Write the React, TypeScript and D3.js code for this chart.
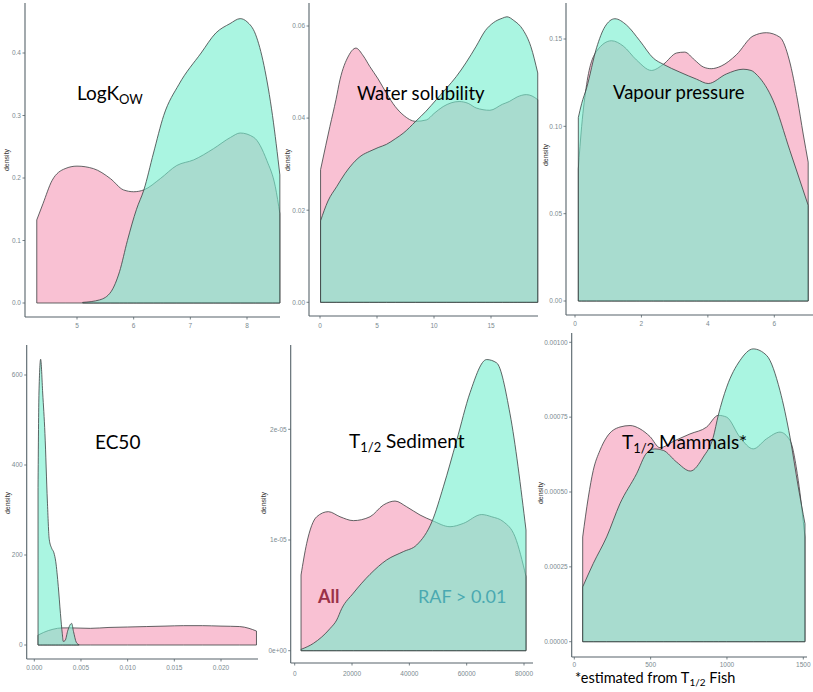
import React from 'react';
import * as d3 from 'd3';

type Pt = [number, number];

// ---------- data ----------
const logKowAll: Pt[] = [[4.29,0.133],[4.4,0.159],[4.56,0.196],[4.79,0.215],[5.0,0.219],[5.29,0.215],[5.59,0.199],[5.82,0.181],[6.0,0.178],[6.18,0.181],[6.47,0.199],[6.76,0.22],[7.06,0.229],[7.41,0.247],[7.71,0.265],[7.88,0.272],[8.12,0.265],[8.35,0.228],[8.5,0.186],[8.58,0.143]];
const logKowRaf: Pt[] = [[5.1,0.001],[5.4,0.005],[5.6,0.018],[5.75,0.05],[5.89,0.1],[6.05,0.15],[6.18,0.181],[6.35,0.24],[6.53,0.3],[6.8,0.35],[7.19,0.4],[7.45,0.432],[7.7,0.447],[7.88,0.455],[8.0,0.45],[8.15,0.43],[8.3,0.38],[8.45,0.3],[8.58,0.205]];

const waterAll: Pt[] = [[0.05,0.0288],[0.5,0.034],[0.87,0.0382],[1.4,0.044],[1.75,0.0483],[2.5,0.0535],[3.15,0.0552],[3.8,0.0535],[4.37,0.0512],[5.1,0.0485],[5.83,0.0454],[6.6,0.0425],[7.29,0.0407],[8.4,0.0393],[9.33,0.0396],[10.0,0.041],[10.8,0.0425],[12.2,0.0436],[13.0,0.0432],[13.7,0.0422],[14.9,0.0417],[16.0,0.043],[16.6,0.0436],[17.3,0.0446],[18.1,0.0451],[18.6,0.0448],[19.1,0.044]];
const waterRaf: Pt[] = [[0.05,0.0177],[0.7,0.022],[1.46,0.0251],[2.2,0.028],[2.9,0.0302],[3.6,0.0318],[4.37,0.0328],[5.1,0.0336],[5.83,0.0343],[6.6,0.0355],[7.29,0.0367],[8.4,0.0393],[9.3,0.0415],[10.2,0.044],[11.1,0.0465],[11.95,0.049],[12.8,0.052],[13.7,0.0556],[14.5,0.059],[15.2,0.0607],[16.0,0.0617],[16.4,0.062],[17.0,0.0612],[17.8,0.0592],[18.5,0.0555],[19.1,0.0498]];

const vapourAll: Pt[] = [[0.1,0.0757],[0.2,0.1],[0.35,0.124],[0.65,0.143],[1.1,0.149],[1.45,0.146],[1.85,0.138],[2.3,0.132],[2.66,0.1355],[3.06,0.142],[3.3,0.1425],[3.6,0.138],[3.86,0.134],[4.1,0.133],[4.4,0.1345],[4.86,0.141],[5.36,0.1517],[5.76,0.1536],[6.17,0.151],[6.45,0.138],[6.7,0.115],[6.87,0.0956],[7.02,0.0795]];
const vapourRaf: Pt[] = [[0.1,0.105],[0.2,0.113],[0.35,0.122],[0.65,0.145],[0.9,0.157],[1.2,0.1616],[1.55,0.158],[1.95,0.149],[2.36,0.139],[2.66,0.1355],[3.16,0.131],[3.66,0.127],[4.01,0.1245],[4.56,0.13],[5.06,0.1327],[5.3,0.132],[5.5,0.129],[5.96,0.115],[6.47,0.0861],[7.02,0.0548]];

const ec50All: Pt[] = [[0.0004,22],[0.001,28],[0.002,35],[0.003,38],[0.004,38],[0.006,37],[0.008,39],[0.010,40],[0.012,41],[0.014,42],[0.016,43],[0.018,43],[0.020,42],[0.022,41],[0.023,37],[0.0238,31]];
const ec50Raf: Pt[] = [[0.0004,350],[0.0005,560],[0.00068,635],[0.0009,560],[0.00114,470],[0.0014,320],[0.0016,235],[0.00186,215],[0.0021,205],[0.0023,185],[0.00257,130],[0.0028,70],[0.003,25],[0.0031,8],[0.0033,10],[0.0036,33],[0.004,48],[0.0042,30],[0.0045,6],[0.0048,0.5]];

const sedimentAll: Pt[] = [[2209,0.684e-5],[4186,0.97e-5],[7674,1.21e-5],[11744,1.256e-5],[15814,1.21e-5],[20465,1.175e-5],[26279,1.21e-5],[30930,1.316e-5],[35000,1.352e-5],[39070,1.3e-5],[43721,1.226e-5],[48023,1.175e-5],[54186,1.12e-5],[58837,1.15e-5],[65233,1.23e-5],[68721,1.21e-5],[72790,1.166e-5],[76860,1.03e-5],[80698,0.67e-5]];
const sedimentRaf: Pt[] = [[2209,0.012e-5],[6512,0.066e-5],[12326,0.2e-5],[14651,0.277e-5],[16395,0.38e-5],[20465,0.52e-5],[26279,0.69e-5],[32093,0.82e-5],[37907,0.895e-5],[42558,0.955e-5],[48023,1.175e-5],[51860,1.48e-5],[56511,1.9e-5],[61163,2.33e-5],[66977,2.63e-5],[70465,2.6e-5],[75116,2.14e-5],[80698,1.09e-5]];

const mammalsAll: Pt[] = [[55,0.35e-3],[92,0.483e-3],[124,0.572e-3],[168,0.639e-3],[212,0.683e-3],[299,0.717e-3],[365,0.722e-3],[430,0.711e-3],[496,0.685e-3],[561,0.648e-3],[660,0.672e-3],[758,0.694e-3],[867,0.717e-3],[943,0.756e-3],[998,0.75e-3],[1085,0.683e-3],[1172,0.644e-3],[1260,0.678e-3],[1347,0.7e-3],[1413,0.672e-3],[1467,0.539e-3],[1511,0.35e-3]];
const mammalsRaf: Pt[] = [[55,0.183e-3],[124,0.261e-3],[212,0.35e-3],[299,0.461e-3],[408,0.561e-3],[474,0.63e-3],[528,0.644e-3],[583,0.639e-3],[670,0.6e-3],[760,0.57e-3],[845,0.617e-3],[910,0.683e-3],[943,0.756e-3],[998,0.85e-3],[1085,0.939e-3],[1172,0.978e-3],[1260,0.956e-3],[1347,0.839e-3],[1413,0.683e-3],[1467,0.517e-3],[1511,0.394e-3]];

const logKowXTicks = [5, 6, 7, 8];
const logKowYTicks = [0, 0.1, 0.2, 0.3, 0.4];
const waterXTicks = [0, 5, 10, 15];
const waterYTicks = [0, 0.02, 0.04, 0.06];
const vapourXTicks = [0, 2, 4, 6];
const vapourYTicks = [0, 0.05, 0.1, 0.15];
const ec50XTicks = [0, 0.005, 0.01, 0.015, 0.02];
const ec50YTicks = [0, 200, 400, 600];
const sedimentXTicks = [0, 20000, 40000, 60000, 80000];
const sedimentYTicks = [0, 1e-5, 2e-5];
const mammalsXTicks = [0, 500, 1000, 1500];
const mammalsYTicks = [0, 0.00025, 0.0005, 0.00075, 0.001];

const fmtFixed = (n: number) => (v: number) => v.toFixed(n);
const fmtInt = (v: number) => String(v);
const fmtExp = (v: number) => v === 0 ? '0e+00' : v.toExponential(0).replace('e-', 'e-0');

// ---------- layout ----------
interface Panel {
  all: Pt[]; raf: Pt[];
  xd: [number, number]; xr: [number, number];
  yd: [number, number]; yr: [number, number];
  left: number; top: number; bottom: number; right: number;
  xTicks: number[]; yTicks: number[];
  xFmt: (v: number) => string; yFmt: (v: number) => string;
  densX: number; densY: number; xLabY: number;
}

const panels: Panel[] = [
  { all: logKowAll, raf: logKowRaf, xd: [5, 8], xr: [77, 247], yd: [0, 0.4], yr: [303, 53],
    left: 25, top: 3, bottom: 317, right: 280, xTicks: logKowXTicks, yTicks: logKowYTicks,
    xFmt: fmtInt, yFmt: fmtFixed(1), densX: 9, densY: 160, xLabY: 328 },
  { all: waterAll, raf: waterRaf, xd: [0, 15], xr: [320, 491], yd: [0, 0.06], yr: [302.3, 26],
    left: 309, top: 3, bottom: 316, right: 538, xTicks: waterXTicks, yTicks: waterYTicks,
    xFmt: fmtInt, yFmt: fmtFixed(2), densX: 290, densY: 160, xLabY: 328 },
  { all: vapourAll, raf: vapourRaf, xd: [0, 6], xr: [575, 774.3], yd: [0, 0.15], yr: [301, 39],
    left: 566, top: 3, bottom: 315, right: 813, xTicks: vapourXTicks, yTicks: vapourYTicks,
    xFmt: fmtInt, yFmt: fmtFixed(2), densX: 548, densY: 155, xLabY: 326 },
  { all: ec50All, raf: ec50Raf, xd: [0, 0.02], xr: [34.3, 221], yd: [0, 600], yr: [645, 375],
    left: 26.7, top: 345, bottom: 659, right: 258, xTicks: ec50XTicks, yTicks: ec50YTicks,
    xFmt: fmtFixed(3), yFmt: fmtInt, densX: 10, densY: 503, xLabY: 670 },
  { all: sedimentAll, raf: sedimentRaf, xd: [0, 80000], xr: [294.7, 524], yd: [0, 2e-5], yr: [650.7, 429.3],
    left: 290.7, top: 345, bottom: 663, right: 533, xTicks: sedimentXTicks, yTicks: sedimentYTicks,
    xFmt: fmtInt, yFmt: fmtExp, densX: 266, densY: 503, xLabY: 676 },
  { all: mammalsAll, raf: mammalsRaf, xd: [0, 1500], xr: [574.3, 803.3], yd: [0, 0.001], yr: [641.7, 342.3],
    left: 571.7, top: 333, bottom: 657, right: 807, xTicks: mammalsXTicks, yTicks: mammalsYTicks,
    xFmt: fmtInt, yFmt: fmtFixed(5), densX: 543, densY: 493, xLabY: 667 },
];

const AXIS = '#56636a';
const TICKTXT = '#7a8a90';
const PINK = '#f9c1d3';
const GREEN = 'rgba(113,238,205,0.6)';
const OUTLINE = '#3b3f40';
const TITLE_FONT = 'Lato, "Open Sans", sans-serif';
const TICK_FONT = '"Liberation Sans", Arial, sans-serif';

function PanelView({ p }: { p: Panel }) {
  const x = d3.scaleLinear().domain(p.xd).range(p.xr);
  const y = d3.scaleLinear().domain(p.yd).range(p.yr);
  const area = d3.area<Pt>().x(d => x(d[0])).y0(y(0)).y1(d => y(d[1])).curve(d3.curveMonotoneX);
  return (
    <g>
      <path d={area(p.all) || ''} fill={PINK} stroke={OUTLINE} strokeWidth={0.8} />
      <path d={area(p.raf) || ''} fill={GREEN} stroke={OUTLINE} strokeWidth={0.8} />
      <line x1={p.left} x2={p.left} y1={p.top} y2={p.bottom} stroke={AXIS} strokeWidth={1.1} />
      <line x1={p.left} x2={p.right} y1={p.bottom} y2={p.bottom} stroke={AXIS} strokeWidth={1.1} />
      {p.yTicks.map(t => (
        <g key={'y' + t}>
          <line x1={p.left - 2.5} x2={p.left} y1={y(t)} y2={y(t)} stroke={AXIS} strokeWidth={0.8} />
          <text x={p.left - 4} y={y(t) + 2.3} fontSize={6.5} fill={TICKTXT} textAnchor="end" fontFamily={TICK_FONT}>{p.yFmt(t)}</text>
        </g>
      ))}
      {p.xTicks.map(t => (
        <g key={'x' + t}>
          <line x1={x(t)} x2={x(t)} y1={p.bottom} y2={p.bottom + 2.5} stroke={AXIS} strokeWidth={0.8} />
          <text x={x(t)} y={p.xLabY} fontSize={6.5} fill={TICKTXT} textAnchor="middle" fontFamily={TICK_FONT}>{p.xFmt(t)}</text>
        </g>
      ))}
      <text transform={`translate(${p.densX},${p.densY}) rotate(-90)`} fontSize={7} fill="#333" textAnchor="middle" fontFamily={TICK_FONT}>density</text>
    </g>
  );
}

export default function App() {
  return (
    <svg width={813} height={692} style={{ position: 'absolute', left: 0, top: 0, background: '#fff' }}>
      <rect width={813} height={692} fill="#fff" />
      {panels.map((p, i) => <PanelView key={i} p={p} />)}
      <g fontFamily={TITLE_FONT} fill="#000">
        <text x={77} y={100} fontSize={19}>LogK<tspan fontSize={13} dy={4}>OW</tspan></text>
        <text x={357} y={100} fontSize={18.5}>Water solubility</text>
        <text x={613} y={99} fontSize={18.5}>Vapour pressure</text>
        <text x={95} y={449} fontSize={19}>EC50</text>
        <text x={349} y={448} fontSize={19}>T<tspan fontSize={13} dy={4}>1/2</tspan><tspan dy={-4}> Sediment</tspan></text>
        <text x={622} y={449} fontSize={19}>T<tspan fontSize={13} dy={4}>1/2</tspan><tspan dy={-4}> Mammals*</tspan></text>
        <text x={318} y={603} fontSize={18} fontWeight="bold" fill="#9b3148">All</text>
        <text x={418} y={603} fontSize={18} fill="#4aa9b1">RAF &gt; 0.01</text>
        <text x={575} y={683} fontSize={14.5}>*estimated from T<tspan fontSize={10} dy={3}>1/2</tspan><tspan dy={-3}> Fish</tspan></text>
      </g>
    </svg>
  );
}
